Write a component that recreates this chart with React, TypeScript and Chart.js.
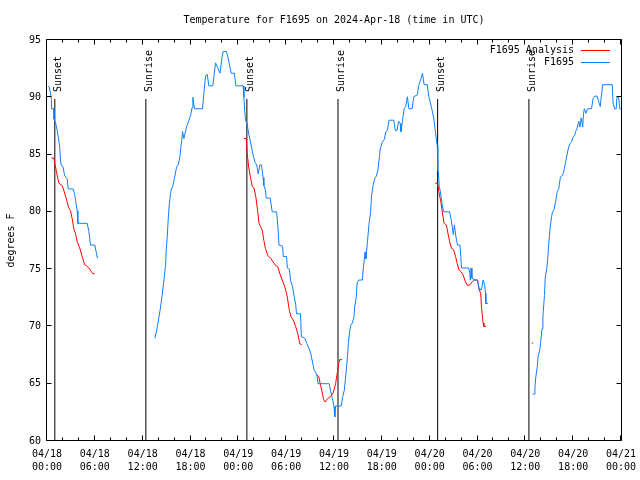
import { useEffect, useRef } from "react";
import { Chart, registerables } from "chart.js";

Chart.register(...registerables);

const titleText = "Temperature for F1695 on 2024-Apr-18 (time in UTC)";
const yAxisTitle = "degrees F";

const xTickDates = ["04/18", "04/18", "04/18", "04/18", "04/19", "04/19", "04/19", "04/19", "04/20", "04/20", "04/20", "04/20", "04/21"];
const xTickTimes = ["00:00", "06:00", "12:00", "18:00", "00:00", "06:00", "12:00", "18:00", "00:00", "06:00", "12:00", "18:00", "00:00"];

const eventHours = [0.98, 12.4, 25.07, 36.5, 49.0, 60.45];
const eventLabels = ["Sunset", "Sunrise", "Sunset", "Sunrise", "Sunset", "Sunrise"];

// Observations (F1695), hours since 04/18 00:00 UTC; null = gap
const obsHours = [
  0.23, 0.44, 0.56, 0.57, 0.86, 0.87, 1.07, 1.28, 1.49, 1.61, 1.69, 1.78, 2.03, 2.2, 2.53, 2.66, 3.28, 3.45, 3.58, 3.79, 3.87, 5.04, 5.25, 5.46, 6.0, 6.17, 6.3, 6.42,
  6.8,
  13.53, 13.83, 14.04, 14.25, 14.46, 14.67, 14.88, 14.96, 15.08, 15.2, 15.33, 15.5, 15.6, 15.8, 16.0, 16.25, 16.46, 16.67, 16.76, 16.9, 17.0, 17.18, 17.3, 17.5, 17.8, 18.0, 18.2, 18.3, 18.5, 19.5,
  19.68, 19.9, 20.1, 20.3, 20.8, 21.14, 21.4, 21.7, 21.98, 22.1, 22.5, 22.7, 22.9, 23.1, 23.5, 23.7, 24.6, 24.7, 24.8, 24.9, 25.1, 25.3, 25.5, 25.7, 25.8, 26.1, 26.3, 26.5, 26.7, 26.9,
  27.1, 27.2, 27.4, 27.5, 28.0, 28.25, 28.8, 28.96, 29.1, 29.55, 29.65, 30.05, 30.15, 30.4, 30.55, 30.8, 31.0, 31.2, 31.3, 31.8, 31.9, 32.3, 32.6, 32.85, 33.06, 33.3, 33.5, 33.7, 33.9,
  34.0, 35.4, 35.6, 35.8, 36.0, 36.1, 36.2, 36.9, 37.1, 37.3, 37.5, 37.7, 37.8, 37.95, 38.1, 38.3, 38.5, 38.6, 38.8, 38.9, 39.1, 39.55, 39.7, 39.9, 40.0, 40.2, 40.4, 40.6, 40.7, 40.9,
  41.1, 41.3, 41.5, 41.7, 41.8, 42.05, 42.3, 42.5, 42.7, 42.9, 43.5, 43.7, 43.9, 44.1, 44.3, 44.4, 44.6, 44.8, 45.0, 45.2, 45.4, 45.8, 46.0, 46.45, 46.65, 46.9, 47.1, 47.3, 47.7, 47.9,
  48.1, 48.3, 48.5, 48.7, 48.96, 49.02, 49.1, 49.2, 49.35, 49.55, 49.75, 50.5, 50.7, 50.85, 50.97, 51.1, 51.3, 51.5, 51.8, 51.9, 52.0, 52.9, 53.05, 53.1, 53.2, 53.3, 53.7, 54.0, 54.2,
  54.3, 54.5, 54.7, 54.9, 55.0, 55.05, 55.3,
  57.0,
  60.9, 61.1, 61.2, 61.3, 61.5, 61.6, 61.8, 61.9, 62.1, 62.2, 62.4, 62.5, 62.7, 62.8, 62.96, 63.1, 63.3, 63.4, 63.6, 63.8, 64.0, 64.2, 64.4, 64.7, 64.9, 65.1, 65.35, 65.6, 65.8, 66.0,
  66.2, 66.3, 66.5, 66.7, 66.85, 67.0, 67.2, 67.3, 67.4, 67.6, 67.8, 68.3, 68.5, 68.7, 69.0, 69.2, 69.4, 69.5, 69.7, 70.9, 71.0, 71.2, 71.4, 71.5, 71.7, 71.85, 72.0,
];
const obsTemps = [
  91.0, 90.4, 89.7, 89.0, 89.0, 88.1, 87.8, 87.1, 86.2, 85.5, 84.5, 84.1, 83.9, 83.2, 82.9, 82.0, 82.0, 81.6, 81.0, 80.1, 79.0, 79.0, 78.3, 77.1, 77.1, 76.5, 76.0, 76.0,
  null,
  68.95, 69.9, 70.8, 71.7, 72.8, 74.1, 75.4, 76.7, 77.8, 79.3, 80.6, 81.6, 82.0, 82.3, 83.0, 83.9, 84.1, 84.8, 85.5, 86.2, 87.0, 86.4, 86.8, 87.4, 88.0, 88.4, 89.1, 90.0, 89.0, 89.0,
  90.4, 91.9, 92.0, 91.0, 91.0, 93.0, 92.6, 92.1, 93.6, 94.0, 94.0, 93.5, 92.8, 92.1, 92.1, 91.0, 91.0, 90.0, 88.8, 88.0, 87.7, 86.8, 86.2, 85.5, 85.1, 84.3, 84.1, 83.3, 84.1, 84.1,
  83.0, 82.3, 81.9, 81.2, 81.2, 80.0, 80.0, 78.7, 77.1, 77.0, 76.1, 76.1, 75.1, 75.0, 74.0, 73.5, 72.6, 71.9, 71.1, 71.1, 69.1, 69.0, 68.5, 68.1, 67.7, 66.9, 66.2, 66.0, 65.6,
  65.0, 65.0, 64.3, 63.7, 63.0, 62.1, 63.05, 63.05, 63.9, 64.45, 65.9, 67.4, 68.5, 69.5, 70.1, 70.3, 70.8, 71.7, 72.6, 73.8, 74.05, 74.05, 75.2, 76.5, 75.9, 77.4, 79.0, 80.0, 81.3, 82.3,
  82.9, 83.1, 83.6, 84.8, 85.5, 86.1, 86.3, 87.0, 87.1, 88.0, 88.0, 87.1, 87.1, 87.9, 87.7, 87.0, 88.0, 89.0, 89.2, 90.05, 89.0, 89.0, 90.05, 90.2, 91.1, 91.6, 92.1, 91.1, 91.1, 90.05,
  89.5, 88.9, 88.2, 87.1, 85.7, 83.6, 83.5, 82.2, 81.75, 80.7, 80.0, 80.0, 79.3, 78.6, 78.0, 78.85, 77.8, 77.1, 77.1, 76.1, 75.1, 75.1, 74.6, 74.05, 75.1, 74.2, 74.05, 74.05, 73.3,
  73.2, 73.2, 74.05, 73.6, 72.9, 72.0, 72.0,
  null,
  64.1, 64.1, 64.6, 65.5, 66.5, 67.4, 67.9, 68.5, 69.8, 70.85, 72.7, 74.3, 75.1, 75.8, 77.4, 78.6, 79.6, 80.0, 80.2, 80.9, 81.75, 82.05, 83.05, 83.2, 83.8, 84.5, 85.4, 85.97, 86.1, 86.55,
  86.7, 87.0, 87.3, 87.9, 87.4, 88.2, 87.4, 88.6, 89.0, 88.6, 89.0, 89.0, 89.9, 90.1, 90.1, 89.6, 89.2, 89.9, 91.1, 91.1, 89.5, 89.0, 89.0, 90.05, 90.05, 89.0, 89.0,
];

// Analysis (F1695 Analysis)
const anaHours = [
  0.56, 0.86, 0.98, 1.19, 1.36, 1.49, 1.9, 2.1, 2.4, 2.7, 2.95, 3.16, 3.37, 3.58, 3.79, 4.08, 4.41, 4.71, 4.96, 5.25, 5.54, 5.75, 5.96,
  10.0,
  24.7, 25.0, 25.1, 25.3, 25.5, 25.75, 25.95, 26.2, 26.4, 26.6, 26.8, 27.0, 27.2, 27.4, 27.7, 28.1, 28.5, 28.7, 28.96, 29.2, 29.5, 29.8, 30.05, 30.2, 30.4, 30.6, 30.9, 31.2, 31.5, 31.7, 31.97,
  33.0,
  33.9, 34.1, 34.3, 34.5, 34.7, 34.9, 35.2, 35.6, 35.9, 36.2, 36.4, 36.6, 36.7, 37.0,
  40.0,
  48.7, 49.0, 49.15, 49.4, 49.6, 49.8, 50.1, 50.3, 50.5, 50.75, 51.0, 51.25, 51.45, 51.7, 51.9, 52.2, 52.4, 52.7, 53.0, 53.35, 53.6, 54.0, 54.2, 54.4, 54.5, 54.6, 54.7, 54.8, 55.05,
  58.0,
  60.8, 61.0,
];
const anaTemps = [
  84.7, 84.7, 84.2, 83.5, 82.9, 82.5, 82.3, 81.9, 81.2, 80.4, 80.1, 79.4, 78.5, 78.1, 77.4, 76.9, 76.1, 75.4, 75.3, 75.1, 74.8, 74.6, 74.6,
  null,
  86.4, 86.4, 85.2, 83.9, 83.1, 82.2, 82.1, 81.3, 80.2, 79.0, 78.7, 78.4, 77.5, 76.8, 76.2, 75.9, 75.5, 75.3, 75.2, 74.6, 74.05, 73.5, 72.9, 72.3, 71.4, 70.85, 70.55, 69.97, 69.25, 68.5, 68.4,
  null,
  65.76, 65.6, 64.9, 64.3, 63.6, 63.4, 63.7, 63.9, 64.2, 65.0, 65.9, 66.8, 67.1, 67.1,
  null,
  82.5, 82.5, 81.75, 80.9, 79.9, 79.0, 78.85, 78.1, 77.4, 76.8, 76.7, 76.1, 75.5, 74.9, 74.8, 74.5, 74.05, 73.6, 73.6, 73.9, 74.05, 74.05, 73.2, 72.9, 71.7, 71.0, 70.3, 70.0, 70.0,
  null,
  68.5, 68.6,
];

const FONT_FAMILY = '"DejaVu Sans Mono", "Liberation Mono", monospace';
const BLUE = "#0a80ff";
const RED = "#ff0000";
const EVENT_TOP = 89.85;
const MINOR_STEP = 2;
const MAJOR_STEP = 6;

const gnuplotPlugin = {
  id: "gnuplotDecor",
  afterDraw(chart: any) {
    const ctx = chart.ctx as CanvasRenderingContext2D;
    const { left, right, top, bottom } = chart.chartArea;
    const xs = chart.scales.x;
    const ys = chart.scales.y;
    ctx.save();
    ctx.strokeStyle = "#000";
    ctx.fillStyle = "#000";
    ctx.lineWidth = 1;
    // frame
    const L = Math.round(left) - 0.5;
    const R = Math.round(right) + 0.5;
    const T = Math.round(top) - 0.5;
    const B = Math.round(bottom) - 0.5;
    ctx.beginPath();
    ctx.rect(L, T, R - L, B - T);
    ctx.stroke();
    // x ticks (major + minor), mirrored
    ctx.beginPath();
    for (let h = xs.min; h <= xs.max + 1e-9; h += MINOR_STEP) {
      const isMajor = Math.abs(h / MAJOR_STEP - Math.round(h / MAJOR_STEP)) < 1e-9;
      const len = isMajor ? 5 : 3;
      const px = Math.round(xs.getPixelForValue(h)) - 0.5;
      ctx.moveTo(px, B);
      ctx.lineTo(px, B - len);
      ctx.moveTo(px, T);
      ctx.lineTo(px, T + len);
    }
    // y ticks, mirrored
    for (const t of ys.ticks) {
      const py = Math.round(ys.getPixelForValue(t.value)) - 0.5;
      ctx.moveTo(L, py);
      ctx.lineTo(L + 5, py);
      ctx.moveTo(R, py);
      ctx.lineTo(R - 5, py);
    }
    ctx.stroke();

    ctx.font = `10px ${FONT_FAMILY}`;
    // title
    ctx.textAlign = "center";
    ctx.textBaseline = "middle";
    ctx.fillText(titleText, (left + right) / 2, 20);
    // y axis title
    ctx.save();
    ctx.translate(11, (top + bottom) / 2);
    ctx.rotate(-Math.PI / 2);
    ctx.fillText(yAxisTitle, 0, 0);
    ctx.restore();
    // event labels
    const labelStart = ys.getPixelForValue(EVENT_TOP) - 7;
    eventHours.forEach((h, i) => {
      const px = xs.getPixelForValue(h);
      ctx.save();
      ctx.translate(Math.round(px) + 6, labelStart);
      ctx.rotate(-Math.PI / 2);
      ctx.textAlign = "left";
      ctx.textBaseline = "alphabetic";
      ctx.fillText(eventLabels[i], 0, 0);
      ctx.restore();
    });
    // legend (gnuplot style: text right-aligned, sample line to the right)
    const legendOrder = [1, 0];
    legendOrder.forEach((di, row) => {
      const ds = chart.data.datasets[di];
      const y = 50 + row * 12;
      ctx.textAlign = "right";
      ctx.textBaseline = "middle";
      ctx.fillStyle = "#000";
      ctx.fillText(ds.label, 574, y);
      ctx.strokeStyle = ds.borderColor;
      ctx.beginPath();
      ctx.moveTo(581, y + 0.5);
      ctx.lineTo(610, y + 0.5);
      ctx.stroke();
    });
    ctx.restore();
  },
};

export default function App() {
  const canvasRef = useRef<HTMLCanvasElement | null>(null);

  useEffect(() => {
    document.body.style.margin = "0";
    document.body.style.overflow = "hidden";
    const canvas = canvasRef.current;
    if (!canvas) return;

    const obsData = obsHours.map((h, i) => ({ x: h, y: obsTemps[i] }));
    const anaData = anaHours.map((h, i) => ({ x: h, y: anaTemps[i] }));
    const eventSets = eventHours.map((h) => ({
      label: "",
      data: [
        { x: h, y: 60 },
        { x: h, y: EVENT_TOP },
      ],
      borderColor: "#000",
      borderWidth: 1,
      pointRadius: 0,
    }));

    const chart = new Chart(canvas, {
      type: "line",
      data: {
        datasets: [
          { label: "F1695", data: obsData as any, borderColor: BLUE, borderWidth: 1, pointRadius: 0, spanGaps: false, tension: 0 },
          { label: "F1695 Analysis", data: anaData as any, borderColor: RED, borderWidth: 1, pointRadius: 0, spanGaps: false, tension: 0 },
          ...(eventSets as any),
        ],
      },
      options: {
        animation: false,
        responsive: false,
        devicePixelRatio: 1,
        events: [],
        layout: { padding: { top: 40, right: 19, bottom: 0, left: 0 } },
        plugins: {
          legend: { display: false },
          title: { display: false },
          tooltip: { enabled: false },
        },
        scales: {
          x: {
            type: "linear",
            min: 0,
            max: 72,
            grid: { display: false, drawTicks: false },
            border: { display: false },
            ticks: {
              stepSize: 6,
              autoSkip: false,
              maxRotation: 0,
              minRotation: 0,
              padding: 7,
              color: "#000",
              font: { family: FONT_FAMILY, size: 10, lineHeight: 1.3 },
              callback: (value: any) => {
                const i = Math.round(Number(value) / 6);
                return [xTickDates[i], xTickTimes[i]];
              },
            },
            afterFit: (scale: any) => {
              scale.height = 39;
              scale.paddingLeft = 0;
              scale.paddingRight = 0;
            },
          },
          y: {
            min: 60,
            max: 95,
            grid: { display: false, drawTicks: false },
            border: { display: false },
            ticks: {
              stepSize: 5,
              padding: 6,
              color: "#000",
              font: { family: FONT_FAMILY, size: 10 },
            },
            afterFit: (scale: any) => {
              scale.width = 47;
              scale.paddingTop = 0;
              scale.paddingBottom = 0;
            },
          },
        },
      },
      plugins: [gnuplotPlugin],
    });

    return () => {
      chart.destroy();
    };
  }, []);

  return (
    <div style={{ width: 640, height: 480, background: "#fff" }}>
      <canvas ref={canvasRef} width={640} height={480} style={{ display: "block" }} />
    </div>
  );
}
